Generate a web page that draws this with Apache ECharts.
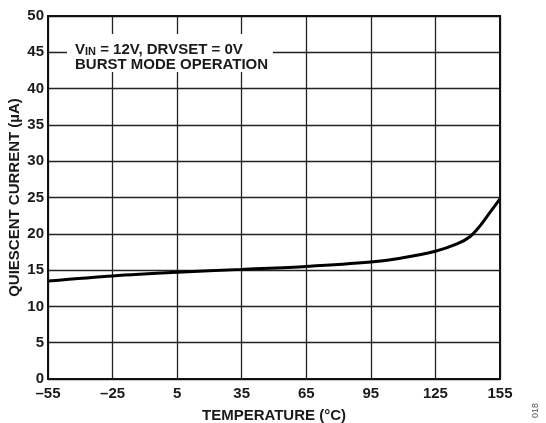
<!DOCTYPE html>
<html>
<head>
<meta charset="utf-8">
<style>
  html, body { margin: 0; padding: 0; background: #fff; }
  #chart { width: 546px; height: 423px; }
</style>
<script src="https://cdn.jsdelivr.net/npm/echarts@6/dist/echarts.min.js"></script>
</head>
<body>
<div id="chart"></div>
<script>
// Quiescent current vs. temperature, burst mode operation
var temperatures = [-55, -25, 5, 35, 65, 95, 108, 125, 135, 141, 146, 150, 155];
var currents     = [13.5, 14.2, 14.7, 15.1, 15.5, 16.1, 16.6, 17.6, 18.6, 19.6, 21.2, 22.8, 24.8];

var xTicks = [-55, -25, 5, 35, 65, 95, 125, 155];
var yTicks = [0, 5, 10, 15, 20, 25, 30, 35, 40, 45, 50];

var FONT = '"Liberation Sans", Arial, sans-serif';
var INK = '#1a1a1a';
var chart = echarts.init(document.getElementById('chart'));

chart.setOption({
  backgroundColor: '#fff',
  animation: false,
  grid: { left: 48, right: 46, top: 16, bottom: 44, containLabel: false, outerBoundsMode: 'none' },
  xAxis: {
    type: 'value',
    min: xTicks[0],
    max: xTicks[xTicks.length - 1],
    interval: 30,
    name: 'TEMPERATURE (°C)',
    nameLocation: 'middle',
    nameGap: 29,
    nameMoveOverlap: false,
    nameTextStyle: { fontFamily: FONT, fontWeight: 'bold', fontSize: 15, color: INK },
    axisLine: { show: false },
    axisTick: { show: false },
    axisLabel: {
      fontFamily: FONT, fontWeight: 'bold', fontSize: 15, color: INK, margin: 7,
      formatter: function (v) { return String(v).replace('-', '\u2013'); }
    },
    splitLine: { lineStyle: { color: '#222', width: 1.3 } }
  },
  yAxis: {
    type: 'value',
    min: yTicks[0],
    max: yTicks[yTicks.length - 1],
    interval: 5,
    name: 'QUIESCENT CURRENT (µA)',
    nameLocation: 'middle',
    nameGap: 26,
    nameMoveOverlap: false,
    nameTextStyle: { fontFamily: FONT, fontWeight: 'bold', fontSize: 15, color: INK },
    axisLine: { show: false },
    axisTick: { show: false },
    axisLabel: { fontFamily: FONT, fontWeight: 'bold', fontSize: 15, color: INK, margin: 4 },
    splitLine: { lineStyle: { color: '#222', width: 1.3 } }
  },
  series: [{
    type: 'line',
    data: temperatures.map(function (t, i) { return [t, currents[i]]; }),
    smooth: 0.3,
    symbol: 'none',
    lineStyle: { color: '#000', width: 3 },
    z: 5
  }],
  graphic: [
    {
      type: 'rect',
      shape: { x: 48, y: 16, width: 452, height: 363 },
      style: { fill: 'none', stroke: '#111', lineWidth: 2 },
      z: 10
    },
    {
      type: 'rect',
      shape: { x: 67, y: 34, width: 206, height: 38 },
      style: { fill: '#fff' },
      z: 6
    },
    {
      type: 'text',
      left: 75, top: 39,
      z: 7,
      style: {
        text: '{b|V}{s|IN}{b| = 12V, DRVSET = 0V}\n{b|BURST MODE OPERATION}',
        rich: {
          b: { fontFamily: FONT, fontWeight: 'bold', fontSize: 15, fill: INK, lineHeight: 15 },
          s: { fontFamily: FONT, fontWeight: 'bold', fontSize: 11, fill: INK, verticalAlign: 'bottom', padding: [7, 0, 0, 0], lineHeight: 15 }
        }
      }
    },
    {
      type: 'text',
      left: 531, top: 403,
      rotation: Math.PI / 2,
      z: 7,
      style: { text: '018', fontFamily: FONT, fontSize: 9, fill: '#555' }
    }
  ]
});
</script>
</body>
</html>
